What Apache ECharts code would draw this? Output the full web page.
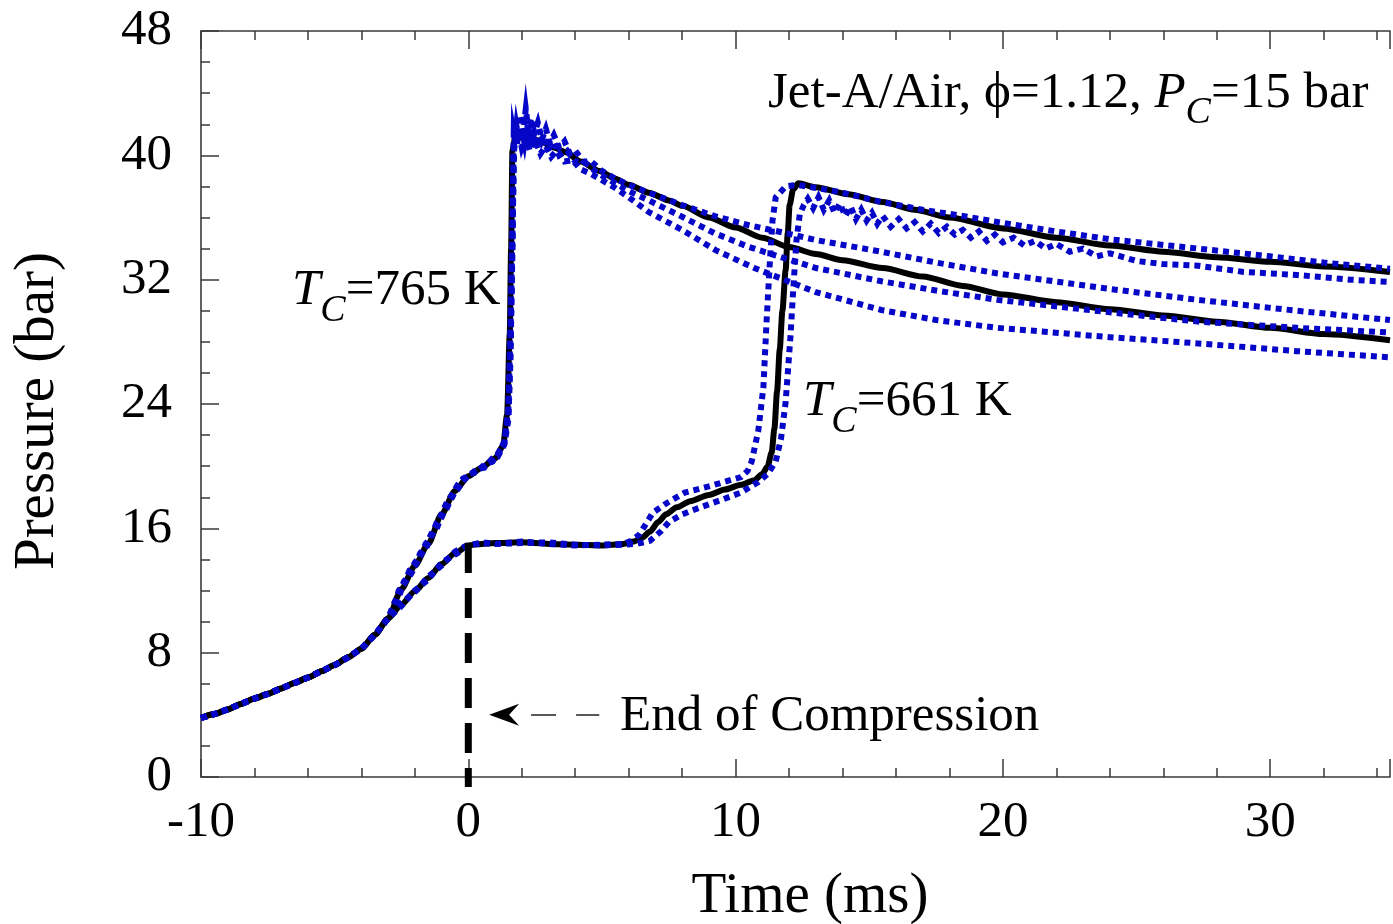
<!DOCTYPE html>
<html>
<head>
<meta charset="utf-8">
<title>Jet-A/Air pressure traces</title>
<script src="https://cdn.jsdelivr.net/npm/echarts@6/dist/echarts.min.js"></script>
<style>
  html, body { margin: 0; padding: 0; background: #ffffff; }
  #chart { width: 1393px; height: 924px; }
</style>
</head>
<body>
<div id="chart"></div>
<script>
// ---- axis ranges and tick steps ----
const TIME_RANGE = [-10, 34.48];
const PRESSURE_RANGE = [0, 48];
const X_MAJOR = 10, X_MINOR = 2;
const Y_MAJOR = 8, Y_MINOR = 2;

// ---- shared compression stroke (time ms, pressure bar) ----
const compression = [
  [-10, 3.8], [-9.5, 4.05], [-9, 4.35], [-8.5, 4.7], [-8, 5.05], [-7.5, 5.35],
  [-7, 5.7], [-6.5, 6.05], [-6, 6.4], [-5.5, 6.8], [-5, 7.2], [-4.5, 7.7],
  [-4, 8.25], [-3.5, 9.15], [-3, 10.2]
];

// ---- T_C = 765 K ----
const black765 = [
  [-2.5, 12.1], [-2, 13.6], [-1.5, 15.0], [-1, 16.9], [-0.5, 18.4], [0, 19.35],
  [0.5, 19.9], [1.0, 20.5], [1.3, 21.3], [1.45, 23.3], [1.55, 28.5], [1.6, 34.0],
  [1.65, 40.3], [1.75, 41.1], [2.2, 41.2], [2.7, 40.9], [3.2, 40.5], [3.65, 40.2],
  [4.2, 39.6], [4.9, 39.0], [5.5, 38.5], [6.0, 38.1], [6.75, 37.6], [7.5, 37.1],
  [8, 36.75], [9, 36.0], [10, 35.35], [11, 34.7], [12, 34.1], [13, 33.65],
  [14, 33.25], [15.5, 32.75], [17, 32.2], [18.5, 31.6], [20, 31.05], [22, 30.55],
  [24, 30.1], [26, 29.7], [28, 29.3], [30, 28.9], [32, 28.5], [34.48, 28.1]
];
const blue765a = [
  [-2.8, 10.9], [-2.6, 12.0], [-2.4, 12.4], [-2.2, 13.3], [-2, 13.6], [-1.8, 14.4],
  [-1.6, 14.8], [-1.4, 15.6], [-1.2, 16.2], [-1, 16.9], [-0.8, 17.7], [-0.6, 18.2],
  [-0.4, 18.8], [-0.2, 19.1], [0, 19.5], [0.3, 19.6], [0.6, 20.1], [0.9, 20.3],
  [1.1, 20.7], [1.35, 21.6], [1.5, 23.5], [1.58, 28], [1.64, 33.5], [1.7, 39.5],
  [1.75, 42.2], [1.85, 41.3], [1.95, 42.6], [2.05, 41.5], [2.15, 43.0], [2.25, 41.6],
  [2.35, 42.4], [2.45, 41.3], [2.6, 42.1], [2.75, 41.0], [2.9, 41.7], [3.05, 40.8],
  [3.2, 41.3], [3.4, 40.5], [3.6, 40.9], [3.8, 40.1], [4.0, 40.3], [4.3, 39.6],
  [4.6, 39.6], [5, 39.0], [5.5, 38.5], [6, 38.1], [6.75, 37.6], [8, 36.8],
  [9.2, 36.1], [10.5, 35.5], [12, 34.95], [13, 34.55], [15.45, 33.8], [17.5, 33.1],
  [19.8, 32.4], [24, 31.4], [27.3, 30.7], [31, 30.0], [34.48, 29.4]
];
const blue765b = [
  [-2.8, 11.1], [-2.6, 11.8], [-2.4, 12.6], [-2.2, 13.0], [-2, 13.8], [-1.8, 14.2],
  [-1.6, 15.0], [-1.4, 15.4], [-1.2, 16.3], [-1, 16.7], [-0.8, 17.5], [-0.6, 18.0],
  [-0.4, 18.7], [-0.2, 19.2], [0, 19.3], [0.3, 19.8], [0.6, 19.9], [0.9, 20.5],
  [1.1, 20.6], [1.35, 21.4], [1.5, 23.0], [1.58, 27], [1.65, 34], [1.7, 40.2],
  [1.8, 41.9], [1.9, 40.9], [2.0, 41.7], [2.1, 40.8], [2.2, 42.0], [2.3, 41.0],
  [2.45, 41.6], [2.6, 40.6], [2.8, 41.2], [3.0, 40.4], [3.2, 40.9], [3.4, 40.0],
  [3.7, 40.3], [4.0, 39.6], [4.4, 39.5], [4.8, 38.9], [5.3, 38.4], [6, 37.7],
  [6.75, 37.1], [8, 36.05], [9.2, 35.0], [10.5, 34.1], [13, 32.75], [15.45, 31.9],
  [17.5, 31.3], [19.8, 30.7], [24, 29.9], [27.3, 29.3], [31, 28.9], [34.48, 28.6]
];
const blue765c = [
  [-2.8, 10.8], [-2.6, 11.6], [-2.4, 12.5], [-2.2, 12.9], [-2, 13.5], [-1.8, 14.3],
  [-1.6, 14.6], [-1.4, 15.5], [-1.2, 15.9], [-1, 16.8], [-0.8, 17.3], [-0.6, 18.1],
  [-0.4, 18.5], [-0.2, 19.0], [0, 19.4], [0.3, 19.7], [0.6, 20.0], [0.9, 20.3],
  [1.1, 20.8], [1.35, 21.5], [1.5, 23.8], [1.58, 29], [1.65, 35], [1.7, 41.5],
  [1.8, 40.6], [1.9, 41.4], [2.0, 40.5], [2.15, 41.2], [2.3, 40.3], [2.5, 41.0],
  [2.7, 40.1], [2.9, 40.6], [3.1, 39.9], [3.3, 40.3], [3.6, 39.6], [3.9, 39.7],
  [4.2, 39.1], [4.6, 38.8], [5, 38.4], [5.5, 37.9], [6, 37.3], [6.75, 36.35],
  [8, 35.2], [9.25, 33.9], [10.7, 32.75], [13, 31.2], [15.45, 30.05], [17.5, 29.4],
  [19.8, 28.9], [24, 28.3], [27.3, 27.9], [31, 27.4], [34.48, 27.0]
];

// ---- T_C = 661 K ----
const black661 = [
  [-2.5, 11.1], [-2, 11.95], [-1.5, 12.8], [-1, 13.7], [-0.5, 14.4], [0, 14.9],
  [0.5, 15.0], [1, 15.05], [2, 15.1], [3, 15.0], [4, 14.95], [5, 14.9], [5.8, 15.0],
  [6.2, 15.15], [6.5, 15.4], [6.8, 15.8], [7.1, 16.4], [7.4, 16.9], [7.8, 17.35],
  [8.3, 17.75], [9, 18.15], [9.6, 18.5], [10.2, 18.8], [10.7, 19.1], [11.0, 19.5],
  [11.2, 20.0], [11.35, 20.9], [11.45, 22.4], [11.55, 24.8], [11.65, 27.5],
  [11.75, 30.0], [11.87, 32.6], [11.95, 35.0], [12.02, 36.8], [12.15, 37.8],
  [12.35, 38.2], [13, 37.95], [14.2, 37.5], [15.5, 37.0], [16.7, 36.5], [18, 36.0],
  [20, 35.3], [22, 34.7], [24, 34.2], [26, 33.8], [28, 33.45], [30, 33.15],
  [32, 32.85], [34.48, 32.5]
];
const blue661a = [
  [-2.5, 11.2], [-2, 11.9], [-1.5, 12.9], [-1, 13.6], [-0.5, 14.5], [0, 14.95],
  [0.5, 15.05], [1, 15.0], [2, 15.15], [3, 15.0], [4, 14.9], [5, 14.95], [5.8, 15.0],
  [6.1, 15.2], [6.4, 15.6], [6.65, 16.3], [6.9, 17.0], [7.4, 17.6], [8.1, 18.3],
  [9, 18.7], [10.2, 19.3], [10.45, 19.7], [10.6, 20.3], [10.85, 22.3], [11.04, 25.1],
  [11.16, 29.4], [11.3, 33.7], [11.38, 35.8], [11.5, 37.3], [11.87, 38.0],
  [12.3, 38.1], [13, 37.9], [14, 37.6], [15.45, 37.0], [17, 36.5], [18.5, 36.1],
  [20, 35.65], [22, 35.1], [24, 34.6], [27.3, 34.0], [30, 33.5], [32, 33.1],
  [34.48, 32.7]
];
const blue661b = [
  [-2.5, 11.0], [-2, 12.0], [-1.5, 12.7], [-1, 13.8], [-0.5, 14.3], [0, 14.85],
  [0.5, 15.1], [1, 15.0], [2, 15.05], [3, 15.1], [4, 14.95], [5, 14.9], [5.8, 14.95],
  [6.3, 15.0], [6.8, 15.2], [7.2, 15.8], [7.5, 16.4], [8.0, 16.9], [8.6, 17.3],
  [9.5, 17.85], [10.2, 18.3], [10.86, 19.0], [11.2, 19.5], [11.5, 20.3], [11.7, 21.8],
  [11.87, 24.1], [12.05, 28.3], [12.16, 31.5], [12.28, 34.6], [12.4, 36.2],
  [12.55, 36.8], [12.7, 37.2], [12.9, 36.6], [13.1, 37.3], [13.3, 36.5], [13.5, 37.1],
  [13.7, 36.3], [13.9, 36.9], [14.1, 36.1], [14.3, 36.7], [14.5, 35.9], [14.7, 36.5],
  [14.9, 35.8], [15.1, 36.3], [15.3, 35.6], [15.5, 36.1], [15.8, 35.4], [16.1, 35.9],
  [16.4, 35.3], [16.7, 35.7], [17.0, 35.1], [17.3, 35.6], [17.6, 35.0], [17.9, 35.4],
  [18.2, 34.9], [18.5, 35.2], [18.8, 34.7], [19.1, 35.1], [19.4, 34.5], [19.7, 34.9],
  [20, 34.4], [20.4, 34.7], [20.8, 34.2], [21.2, 34.5], [21.6, 34.0], [22, 34.3],
  [22.5, 33.8], [23, 34.0], [23.5, 33.5], [24, 33.7], [25, 33.2], [26, 33.0],
  [27.3, 32.9], [29, 32.5], [31, 32.3], [33, 32.0], [34.48, 31.85]
];

// ---- end-of-compression marker ----
const eocLine = [[0, 15.05], [0, -0.65]];
const eocArrowHead = [1.34, 4.0];
const eocArrowShaft = [[1.9, 4.0], [4.9, 4.0]];

// ---- text ----
const xTickLabels = [-10, 0, 10, 20, 30];
const yTickLabels = [0, 8, 16, 24, 32, 40, 48];
const xTitle = 'Time (ms)';
const yTitle = 'Pressure (bar)';

const SERIF = '"Liberation Serif", "Times New Roman", Times, serif';
const BLUE = '#0606c8';
const BLACK = '#000000';
const AXIS_COLOR = '#3a3a3a';
const TEXT_SIZE = 51;
const SUB_SIZE = 38;
const TRACE_WIDTH = 6;

const chart = echarts.init(document.getElementById('chart'), null, { renderer: 'canvas' });

function withCompression(branch) { return compression.concat(branch); }

function solidSeries(name, data, z) {
  return {
    name, type: 'line', data, xAxisIndex: 0, yAxisIndex: 0,
    showSymbol: false, symbol: 'none', smooth: 0.25, smoothMonotone: 'x',
    lineStyle: { color: BLACK, width: TRACE_WIDTH, cap: 'butt', join: 'round' },
    z, silent: true, animation: false
  };
}
function dottedSeries(name, data, z) {
  return {
    name, type: 'line', data, xAxisIndex: 0, yAxisIndex: 0,
    showSymbol: false, symbol: 'none', smooth: false,
    lineStyle: { color: BLUE, width: TRACE_WIDTH, type: [6, 5], cap: 'butt', join: 'miter' },
    z, silent: true, animation: false
  };
}

function tickAxis(kind, position, step, len, extra) {
  const base = {
    type: 'value', position,
    min: kind === 'x' ? TIME_RANGE[0] : PRESSURE_RANGE[0],
    max: kind === 'x' ? TIME_RANGE[1] : PRESSURE_RANGE[1],
    interval: step,
    axisLine: { show: false, onZero: false },
    axisTick: { show: true, inside: true, length: len, lineStyle: { color: AXIS_COLOR, width: 1.5 } },
    axisLabel: { show: false },
    splitLine: { show: false }
  };
  return Object.assign(base, extra || {});
}

const axisLineStyle = { show: true, onZero: false, lineStyle: { color: AXIS_COLOR, width: 1.6 } };

// measure text runs so italic symbols and subscripts sit side by side
const mctx = document.createElement('canvas').getContext('2d');
function measure(str, size, italic) {
  mctx.font = (italic ? 'italic ' : '') + size + 'px ' + SERIF;
  return mctx.measureText(str).width;
}
function textRun(x, y, parts) {
  const out = [];
  let cx = x;
  parts.forEach(p => {
    const size = p.size || TEXT_SIZE;
    out.push({
      type: 'text', x: cx, y: y + (p.dy || 0), silent: true, z: 100,
      style: {
        text: p.text, fontFamily: SERIF, fontSize: size,
        fontStyle: p.italic ? 'italic' : 'normal', fill: '#000',
        align: 'left', verticalAlign: 'middle'
      }
    });
    cx += measure(p.text, size, p.italic) + (p.after || 0);
  });
  return out;
}

const graphics = [].concat(
  textRun(768, 94, [
    { text: 'Jet-A/Air, ϕ=1.12, ' },
    { text: 'P', italic: true },
    { text: 'C', italic: true, size: SUB_SIZE, dy: 19 },
    { text: '=15 bar' }
  ]),
  textRun(292, 291, [
    { text: 'T', italic: true },
    { text: 'C', italic: true, size: SUB_SIZE, dy: 20 },
    { text: '=765 K' }
  ]),
  textRun(803, 402, [
    { text: 'T', italic: true },
    { text: 'C', italic: true, size: SUB_SIZE, dy: 20 },
    { text: '=661 K' }
  ]),
  textRun(620, 717, [{ text: 'End of Compression' }]),
  [
    {
      type: 'text', x: 810, y: 897, silent: true,
      style: { text: xTitle, fontFamily: SERIF, fontSize: 57, fill: '#000', align: 'center', verticalAlign: 'middle' }
    },
    {
      type: 'text', x: 38, y: 411, rotation: Math.PI / 2, silent: true,
      style: { text: yTitle, fontFamily: SERIF, fontSize: 57, fill: '#000', align: 'center', verticalAlign: 'middle' }
    }
  ]
);

const option = {
  backgroundColor: '#ffffff',
  animation: false,
  grid: { left: 201, top: 31, width: 1192, height: 746, containLabel: false },
  xAxis: [
    tickAxis('x', 'bottom', X_MAJOR, 18, {
      axisLine: axisLineStyle,
      axisLabel: {
        show: true, margin: 20, color: '#000', fontFamily: SERIF, fontSize: TEXT_SIZE,
        formatter: v => (xTickLabels.indexOf(Math.round(v * 1000) / 1000) >= 0 ? String(v) : '')
      }
    }),
    tickAxis('x', 'bottom', X_MINOR, 9),
    tickAxis('x', 'top', X_MAJOR, 18, { axisLine: axisLineStyle }),
    tickAxis('x', 'top', X_MINOR, 9)
  ],
  yAxis: [
    tickAxis('y', 'left', Y_MAJOR, 18, {
      axisLine: axisLineStyle,
      axisLabel: {
        show: true, margin: 29, color: '#000', fontFamily: SERIF, fontSize: TEXT_SIZE,
        formatter: v => (yTickLabels.indexOf(v) >= 0 ? String(v) : '')
      }
    }),
    tickAxis('y', 'left', Y_MINOR, 9)
  ],
  series: [
    solidSeries('765 K simulation', withCompression(black765), 2),
    solidSeries('661 K simulation', withCompression(black661), 3),
    dottedSeries('661 K run 1', withCompression(blue661a), 4),
    dottedSeries('661 K run 2', withCompression(blue661b), 5),
    dottedSeries('765 K run 1', withCompression(blue765a), 6),
    dottedSeries('765 K run 2', withCompression(blue765b), 7),
    dottedSeries('765 K run 3', withCompression(blue765c), 8),
    {
      name: 'End of compression', type: 'line', data: eocLine,
      xAxisIndex: 0, yAxisIndex: 0, clip: false,
      showSymbol: false, symbol: 'none', silent: true, z: 9,
      lineStyle: { color: BLACK, width: 7, type: [30, 15], cap: 'butt' },
      markPoint: {
        silent: true, animation: false,
        symbol: 'path://M0,11 L30,0 L20,11 L30,22 Z',
        symbolSize: [30, 22], symbolKeepAspect: false,
        itemStyle: { color: BLACK },
        label: { show: false },
        data: [{ coord: eocArrowHead }]
      },
      markLine: {
        silent: true, animation: false, symbol: ['none', 'none'],
        label: { show: false },
        lineStyle: { color: '#222', width: 1.6, type: [25, 20], dashOffset: 33 },
        data: [[{ coord: eocArrowShaft[0] }, { coord: eocArrowShaft[1] }]]
      }
    }
  ],
  graphic: graphics
};

chart.setOption(option);
</script>
</body>
</html>
